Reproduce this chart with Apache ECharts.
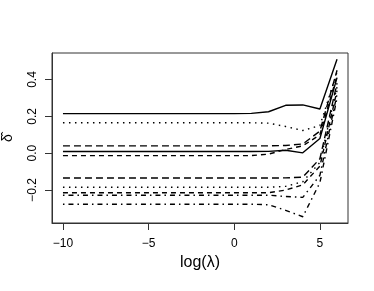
<!DOCTYPE html>
<html>
<head>
<meta charset="utf-8">
<script src="https://cdn.jsdelivr.net/npm/echarts@6/dist/echarts.min.js"></script>
<style>
  html, body { margin: 0; padding: 0; background: #fff; }
  #chart { width: 374px; height: 291px; }
</style>
</head>
<body>
<div id="chart"></div>
<script>
// log(lambda) grid
var logLambda = [-10, -9, -8, -7, -6, -5, -4, -3, -2, -1, 0, 1, 2, 3, 4, 5, 6];

// coefficient paths, one per line
var path1  = [0.215, 0.215, 0.215, 0.215, 0.215, 0.215, 0.215, 0.215, 0.215, 0.215, 0.215, 0.216, 0.225, 0.26, 0.262, 0.24, 0.51];
var path2  = [0.165, 0.165, 0.165, 0.165, 0.165, 0.165, 0.165, 0.165, 0.165, 0.165, 0.165, 0.165, 0.163, 0.145, 0.123, 0.15, 0.44];
var path3  = [0.04, 0.04, 0.04, 0.04, 0.04, 0.04, 0.04, 0.04, 0.04, 0.04, 0.04, 0.04, 0.04, 0.042, 0.05, 0.12, 0.45];
var path4  = [0.009, 0.009, 0.009, 0.009, 0.009, 0.009, 0.009, 0.009, 0.009, 0.009, 0.009, 0.009, 0.01, 0.016, 0.002, 0.08, 0.41];
var path5  = [-0.013, -0.013, -0.013, -0.013, -0.013, -0.013, -0.013, -0.013, -0.013, -0.013, -0.013, -0.013, -0.005, 0.02, 0.04, 0.10, 0.42];
var path6  = [-0.135, -0.135, -0.135, -0.135, -0.135, -0.135, -0.135, -0.135, -0.135, -0.135, -0.135, -0.135, -0.135, -0.134, -0.13, -0.03, 0.38];
var path7  = [-0.185, -0.185, -0.185, -0.185, -0.185, -0.185, -0.185, -0.185, -0.185, -0.185, -0.185, -0.185, -0.185, -0.18, -0.155, -0.05, 0.36];
var path8  = [-0.215, -0.215, -0.215, -0.215, -0.215, -0.215, -0.215, -0.215, -0.215, -0.215, -0.215, -0.215, -0.215, -0.2, -0.172, -0.07, 0.34];
var path9  = [-0.228, -0.228, -0.228, -0.228, -0.228, -0.228, -0.228, -0.228, -0.228, -0.228, -0.228, -0.228, -0.228, -0.235, -0.24, -0.12, 0.32];
var path10 = [-0.277, -0.277, -0.277, -0.277, -0.277, -0.277, -0.277, -0.277, -0.277, -0.277, -0.277, -0.277, -0.28, -0.31, -0.345, -0.16, 0.30];

var xTicks = [-10, -5, 0, 5];
var yTicks = [-0.2, 0, 0.2, 0.4];

var paths = [path1, path2, path3, path4, path5, path6, path7, path8, path9, path10];
var dashes = [
  'solid', [1.5, 4.5], [7, 4], 'solid', [5, 4],
  [7, 4], [1.5, 4.5], [5, 4], [1.5, 4, 5, 4], [1.5, 4, 5, 4]
];

function minus(v) { return String(v).replace('-', '\u2212'); }

var series = [];
for (var i = 0; i < paths.length; i++) {
  var pts = [];
  for (var j = 0; j < logLambda.length; j++) {
    pts.push([logLambda[j], paths[i][j]]);
  }
  series.push({
    type: 'line',
    data: pts,
    showSymbol: false,
    symbol: 'none',
    silent: true,
    lineStyle: { color: '#000', width: 1.4, type: dashes[i] }
  });
}

var chart = echarts.init(document.getElementById('chart'));

var option = {
  animation: false,
  backgroundColor: '#fff',
  textStyle: { fontFamily: 'Liberation Sans, Arial, sans-serif' },
  grid: {
    show: true,
    left: 52, right: 26, top: 53, bottom: 68,
    borderColor: '#333', borderWidth: 1,
    backgroundColor: 'transparent'
  },
  // rotated y title, like R's ylab
  graphic: [{
    type: 'text',
    x: 8,
    y: 138,
    rotation: Math.PI / 2,
    style: {
      text: '\u03b4\u0302',
      fontSize: 14,
      fill: '#000',
      align: 'center',
      verticalAlign: 'middle',
      fontFamily: 'Liberation Sans, Arial, sans-serif'
    }
  }],
  xAxis: {
    type: 'value',
    min: -10.64,
    max: 6.64,
    splitLine: { show: false },
    axisLine: { show: true, onZero: false, lineStyle: { color: '#333', width: 1 } },
    axisTick: { show: true, inside: false, length: 7, customValues: xTicks, lineStyle: { color: '#333' } },
    axisLabel: {
      customValues: xTicks,
      margin: 15,
      fontSize: 12,
      color: '#000',
      formatter: function (v) { return minus(v); }
    },
    name: 'log(\u03bb)',
    nameLocation: 'middle',
    nameGap: 32,
    nameTextStyle: { fontSize: 16, color: '#000' }
  },
  yAxis: {
    type: 'value',
    min: -0.379,
    max: 0.544,
    splitLine: { show: false },
    axisLine: { show: true, onZero: false, lineStyle: { color: '#333', width: 1 } },
    axisTick: { show: true, inside: false, length: 7, customValues: yTicks, lineStyle: { color: '#333' } },
    axisLabel: {
      customValues: yTicks,
      rotate: 90,
      margin: 13,
      fontSize: 12,
      color: '#000',
      formatter: function (v) { return minus(v.toFixed(1)); }
    }
  },
  series: series
};

chart.setOption(option);
</script>
</body>
</html>
